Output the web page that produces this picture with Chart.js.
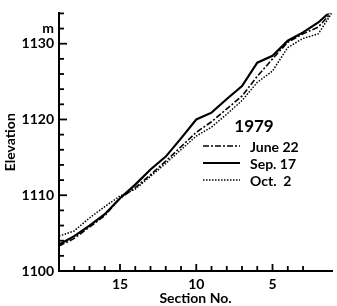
<!DOCTYPE html>
<html>
<head>
<meta charset="utf-8">
<script src="https://cdn.jsdelivr.net/npm/chart.js@4/dist/chart.umd.min.js"></script>
<style>
  html, body { margin: 0; padding: 0; background: #fff; }
  #wrap { width: 337px; height: 306px; position: relative; }
</style>
</head>
<body>
<div id="wrap"><canvas id="profile"></canvas></div>
<script>
// section numbers (x axis runs 19 -> 1, right to left decreasing)
var sections = [19, 18, 17, 16, 15, 14, 13, 12, 11, 10, 9, 8, 7, 6, 5, 4, 3, 2, 1];
var june22 = [1103.3, 1104.3, 1105.8, 1107.3, 1109.6, 1111.0, 1112.7, 1114.5, 1116.4, 1118.3, 1119.7, 1121.4, 1123.1, 1125.7, 1128.0, 1130.2, 1131.3, 1132.2, 1134.4];
var sep17  = [1103.5, 1104.6, 1106.0, 1107.5, 1109.6, 1111.4, 1113.4, 1115.1, 1117.5, 1120.0, 1120.9, 1122.7, 1124.4, 1127.5, 1128.4, 1130.4, 1131.5, 1132.8, 1134.6];
var oct2   = [1104.6, 1105.3, 1107.0, 1108.5, 1109.9, 1110.8, 1112.5, 1114.2, 1116.0, 1117.8, 1119.0, 1120.7, 1122.5, 1124.9, 1126.4, 1129.5, 1130.7, 1131.3, 1134.4];
var seriesNames = ['June 22', 'Sep. 17', 'Oct.  2'];
var legendTitle = '1979';
var xLabels = [15, 10, 5];
var yLabels = [1100, 1110, 1120, 1130];

var FONT = 'Lato, "DejaVu Sans", sans-serif';

function pts(vals){
  return sections.map(function(s, i){ return {x: s, y: vals[i]}; });
}

// inward tick marks on both axes
var innerTicks = {
  id: 'innerTicks',
  afterDraw: function(chart){
    var ctx = chart.ctx, xs = chart.scales.x, ys = chart.scales.y;
    var area = chart.chartArea;
    ctx.save();
    ctx.strokeStyle = '#000';
    ctx.lineWidth = 1.8;
    xs.ticks.forEach(function(t){
      if (t.value !== Math.round(t.value)) return;
      var px = xs.getPixelForValue(t.value);
      var len = (t.value % 5 === 0) ? 7 : 5;
      ctx.beginPath();
      ctx.moveTo(px, area.bottom);
      ctx.lineTo(px, area.bottom - len);
      ctx.stroke();
    });
    ys.ticks.forEach(function(t){
      var py = ys.getPixelForValue(t.value);
      var len = (t.value % 10 === 0) ? 8 : 5;
      ctx.beginPath();
      ctx.moveTo(area.left, py);
      ctx.lineTo(area.left + len, py);
      ctx.stroke();
    });
    ctx.restore();
  }
};

// in-plot legend block
var yearLegend = {
  id: 'yearLegend',
  afterDraw: function(chart){
    var ctx = chart.ctx;
    ctx.save();
    ctx.fillStyle = '#000';
    ctx.textBaseline = 'middle';
    ctx.textAlign = 'center';
    ctx.font = 'bold 17px ' + FONT;
    ctx.fillText(legendTitle, 254, 127);
    ctx.textAlign = 'left';
    ctx.font = 'bold 14px ' + FONT;
    var rows = [146, 163, 180];
    chart.data.datasets.forEach(function(ds, i){
      var y = rows[i];
      ctx.beginPath();
      ctx.setLineDash(ds.borderDash || []);
      ctx.lineWidth = ds.borderWidth;
      ctx.strokeStyle = '#000';
      ctx.moveTo(203, y);
      ctx.lineTo(240, y);
      ctx.stroke();
      ctx.setLineDash([]);
      ctx.fillText(ds.label, 250, y + 1);
    });
    ctx.restore();
  }
};

new Chart(document.getElementById('profile'), {
  type: 'line',
  data: {
    datasets: [{
      label: seriesNames[0],
      data: pts(june22),
      borderColor: '#000',
      borderWidth: 1.6,
      borderDash: [6, 2, 2, 2],
      pointRadius: 0,
      tension: 0
    }, {
      label: seriesNames[1],
      data: pts(sep17),
      borderColor: '#000',
      borderWidth: 2.2,
      pointRadius: 0,
      tension: 0
    }, {
      label: seriesNames[2],
      data: pts(oct2),
      borderColor: '#000',
      borderWidth: 1.5,
      borderDash: [1.5, 1.5],
      pointRadius: 0,
      tension: 0
    }]
  },
  options: {
    responsive: true,
    maintainAspectRatio: false,
    animation: false,
    events: [],
    layout: { padding: { top: 10, right: 0, left: 0, bottom: 0 } },
    plugins: { legend: { display: false }, tooltip: { enabled: false } },
    scales: {
      x: {
        type: 'linear',
        reverse: true,
        min: 1.1,
        max: 19,
        afterFit: function(s){ s.height = 35; },
        grid: { display: false, drawTicks: false },
        border: { display: true, color: '#000', width: 2 },
        ticks: {
          stepSize: 1,
          autoSkip: false,
          maxRotation: 0,
          padding: 5,
          color: '#000',
          font: { family: FONT, size: 14, weight: 'bold' },
          callback: function(v){ return xLabels.indexOf(v) >= 0 ? String(v) : ''; }
        },
        title: {
          display: true,
          text: 'Section No.',
          color: '#000',
          padding: { top: 0, bottom: -1 },
          font: { family: FONT, size: 14, weight: 'bold' }
        }
      },
      y: {
        min: 1100,
        max: 1134,
        afterFit: function(s){ s.width = 59; },
        grid: { display: false, drawTicks: false },
        border: { display: true, color: '#000', width: 2 },
        ticks: {
          stepSize: 2,
          autoSkip: false,
          padding: 5,
          color: '#000',
          font: { family: FONT, size: 14, weight: 'bold' },
          callback: function(v){
            if (yLabels.indexOf(v) >= 0) return String(v);
            if (v === 1132) return 'm';
            return '';
          }
        },
        title: {
          display: true,
          text: 'Elevation',
          color: '#000',
          padding: { top: 2, bottom: 0 },
          font: { family: FONT, size: 14, weight: 'bold' }
        }
      }
    }
  },
  plugins: [innerTicks, yearLegend]
});
</script>
</body>
</html>
